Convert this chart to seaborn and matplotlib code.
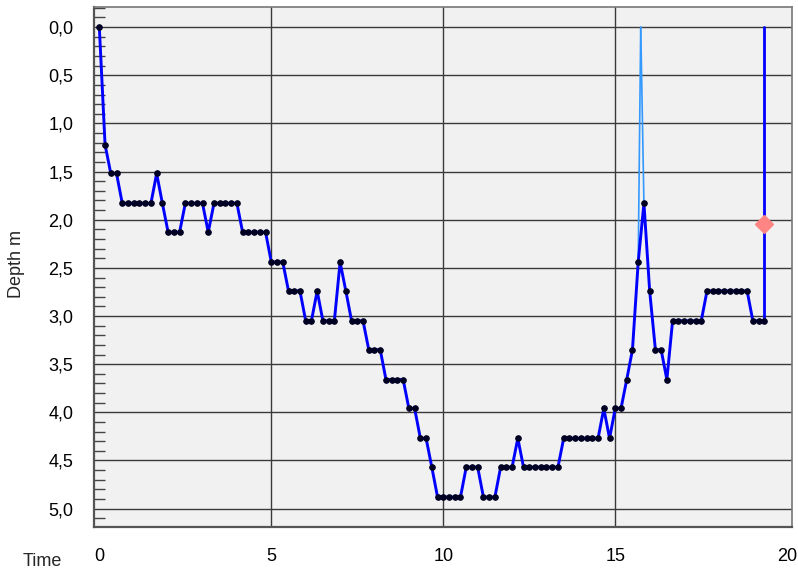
import numpy as np
import pandas as pd
import seaborn as sns
import matplotlib
matplotlib.use('Agg')
import matplotlib.pyplot as plt
from matplotlib.ticker import MultipleLocator

# Dive profile, one sample every 10 s (time in minutes)
SAMPLE_MIN = 1 / 6
depth_m = [
    0.00, 1.22, 1.52, 1.52, 1.83, 1.83, 1.83, 1.83, 1.83, 1.83,
    1.52, 1.83, 2.13, 2.13, 2.13, 1.83, 1.83, 1.83, 1.83, 2.13,
    1.83, 1.83, 1.83, 1.83, 1.83, 2.13, 2.13, 2.13, 2.13, 2.13,
    2.44, 2.44, 2.44, 2.74, 2.74, 2.74, 3.05, 3.05, 2.74, 3.05,
    3.05, 3.05, 2.44, 2.74, 3.05, 3.05, 3.05, 3.35, 3.35, 3.35,
    3.66, 3.66, 3.66, 3.66, 3.96, 3.96, 4.27, 4.27, 4.57, 4.88,
    4.88, 4.88, 4.88, 4.88, 4.57, 4.57, 4.57, 4.88, 4.88, 4.88,
    4.57, 4.57, 4.57, 4.27, 4.57, 4.57, 4.57, 4.57, 4.57, 4.57,
    4.57, 4.27, 4.27, 4.27, 4.27, 4.27, 4.27, 4.27, 3.96, 4.27,
    3.96, 3.96, 3.66, 3.35, 2.44, 1.83, 2.74, 3.35, 3.35, 3.66,
    3.05, 3.05, 3.05, 3.05, 3.05, 3.05, 2.74, 2.74, 2.74, 2.74,
    2.74, 2.74, 2.74, 2.74, 3.05, 3.05, 3.05,
]

# surface event marked with thin light-blue lines
surface_time = 15.74
surface_links = [94, 95]  # sample indices the surface point connects to

# end-of-dive marker
marker_depth = 2.04

y_ticks = [0.0, 0.5, 1.0, 1.5, 2.0, 2.5, 3.0, 3.5, 4.0, 4.5, 5.0]
y_labels = ['0,0', '0,5', '1,0', '1,5', '2,0', '2,5', '3,0', '3,5', '4,0', '4,5', '5,0']
x_ticks = [0, 5, 10, 15, 20]
x_grid = [5, 10, 15]

df = pd.DataFrame({'time': np.arange(len(depth_m)) * SAMPLE_MIN, 'depth': depth_m})
end_time = df['time'].iloc[-1]

sns.set_style('white')
plt.rcParams['font.family'] = ['Liberation Sans', 'DejaVu Sans']

fig = plt.figure(figsize=(7.98, 5.74), dpi=100)
ax = fig.add_axes([0.118, 0.082, 0.875, 0.906])
ax.set_facecolor('#f1f1f1')

# surface links
for idx in surface_links:
    seg = pd.DataFrame({'time': [surface_time, df['time'][idx]],
                        'depth': [0.0, df['depth'][idx]]})
    sns.lineplot(data=seg, x='time', y='depth', sort=False, estimator=None,
                 ax=ax, color='#3399ff', linewidth=1.2)

# vertical line at end of dive
end_line = pd.DataFrame({'time': [end_time, end_time], 'depth': [0.0, depth_m[-1]]})
sns.lineplot(data=end_line, x='time', y='depth', sort=False, estimator=None,
             ax=ax, color='#0000ff', linewidth=2.0)

# main profile
sns.lineplot(data=df, x='time', y='depth', sort=False, estimator=None, ax=ax,
             color='#0000ff', linewidth=2.1, marker='o', markersize=4,
             markerfacecolor='#000022', markeredgecolor='#000022')

ax.plot([end_time], [marker_depth], marker='D', color='#ff8585',
        markersize=9.5, linestyle='none', zorder=5)

ax.set_xlim(-0.15, 20.15)
ax.set_ylim(5.19, -0.21)

ax.set_yticks(y_ticks)
ax.set_yticklabels(y_labels)
ax.yaxis.set_minor_locator(MultipleLocator(0.1))
ax.set_xticks(x_ticks)

ax.grid(True, axis='y', which='major', color='#3a3a3a', linewidth=1.0)
for xg in x_grid:
    ax.axvline(xg, color='#3a3a3a', linewidth=1.0, zorder=0.5)
ax.set_axisbelow(True)

ax.tick_params(axis='y', which='major', direction='out', length=9,
               width=1, color='#444444', labelsize=13, labelcolor='black', pad=6)
ax.tick_params(axis='y', which='minor', direction='in', length=8,
               width=1, color='#444444', left=True)
ax.tick_params(axis='x', which='major', direction='inout', length=22,
               width=1, color='#333333', labelsize=13, labelcolor='black', pad=4)

for side in ['left', 'bottom']:
    ax.spines[side].set_color('#555555')
    ax.spines[side].set_linewidth(1.6)
for side in ['top', 'right']:
    ax.spines[side].set_color('#777777')
    ax.spines[side].set_linewidth(1.2)

ax.set_xlabel('')
ax.set_ylabel('')
fig.text(0.053, 0.021, 'Time', fontsize=13, ha='center', va='center')
fig.text(0.021, 0.54, 'Depth m', fontsize=13, ha='center', va='center',
         rotation=90)

fig.savefig('out.png', dpi=100)
